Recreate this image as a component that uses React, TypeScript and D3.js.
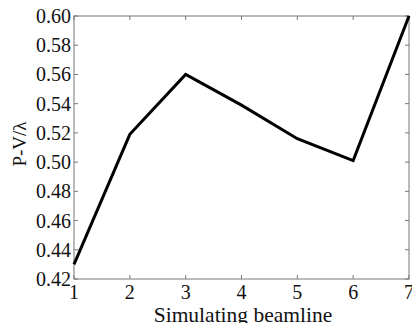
import { useMemo } from "react";
import * as d3 from "d3";

const beamlines = [1, 2, 3, 4, 5, 6, 7];
const pvValues = [0.43, 0.519, 0.56, 0.539, 0.516, 0.501, 0.6];
const yTicks = [0.42, 0.44, 0.46, 0.48, 0.5, 0.52, 0.54, 0.56, 0.58, 0.6];

export default function App() {
  const layout = useMemo(() => {
    const width = 412;
    const height = 323;
    const margin = { top: 16, right: 3, bottom: 44, left: 74 };
    const x = d3.scaleLinear().domain([1, 7]).range([margin.left, width - margin.right]);
    const y = d3.scaleLinear().domain([0.42, 0.6]).range([height - margin.bottom, margin.top]);
    return { width, height, margin, x, y };
  }, []);
  const { x, y, margin, width, height } = layout;
  const line = d3.line<number>().x((_, i) => x(beamlines[i])).y((v) => y(v));
  const font = "'Liberation Serif', 'Times New Roman', serif";
  const frame = "#777";
  const tick = 4;
  const bottom = height - margin.bottom;
  const right = width - margin.right;

  return (
    <svg width={width} height={height} style={{ position: "absolute", left: 0, top: 0, background: "#fff" }} fontFamily={font}>
      <rect x={margin.left} y={margin.top} width={right - margin.left} height={bottom - margin.top} fill="none" stroke={frame} strokeWidth={1} />
      {yTicks.map((t) => (
        <g key={t}>
          <line x1={margin.left} x2={margin.left + tick} y1={y(t)} y2={y(t)} stroke={frame} />
          <line x1={right - tick} x2={right} y1={y(t)} y2={y(t)} stroke={frame} />
          <text x={margin.left - 3} y={y(t) + 7} textAnchor="end" fontSize="20" fill="#111">{t.toFixed(2)}</text>
        </g>
      ))}
      {beamlines.map((b) => (
        <g key={b}>
          <line x1={x(b)} x2={x(b)} y1={bottom} y2={bottom - tick} stroke={frame} />
          <line x1={x(b)} x2={x(b)} y1={margin.top} y2={margin.top + tick} stroke={frame} />
          <text x={x(b)} y={bottom + 20} textAnchor="middle" fontSize="20" fill="#111">{b}</text>
        </g>
      ))}
      <path d={line(pvValues) ?? ""} fill="none" stroke="#000" strokeWidth={3} strokeLinejoin="miter" />
      <text x={243} y={height - 1} textAnchor="middle" fontSize="21.5" fill="#111">Simulating beamline</text>
      <text transform="translate(26, 144) rotate(-90)" textAnchor="middle" fontSize="19" fill="#111">P-V/λ</text>
    </svg>
  );
}
